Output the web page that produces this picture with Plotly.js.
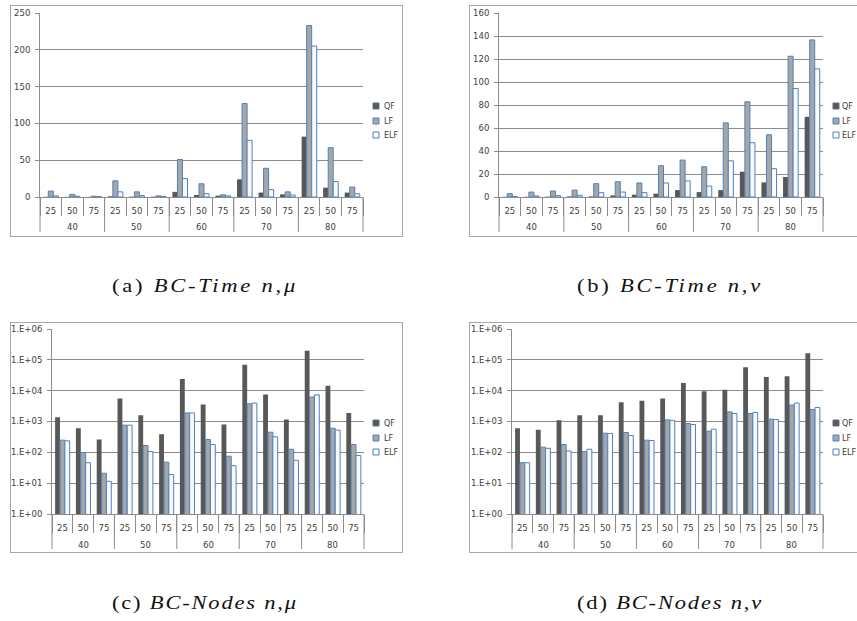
<!DOCTYPE html>
<html><head><meta charset="utf-8">
<script src="https://cdn.plot.ly/plotly-3.0.1.min.js"></script>
<style>
html,body{margin:0;padding:0;background:#fff;overflow:hidden;width:857px;height:621px;}
#wrap{position:relative;width:857px;height:621px;overflow:hidden;background:#fff;}
.panel{position:absolute;background:#fff;box-shadow:inset 0 0 0 1px #a6a6a6;}
.cap{position:absolute;font-family:'Liberation Serif','Times New Roman',serif;font-size:18px;line-height:18px;white-space:nowrap;transform-origin:0 50%;color:#111;}
</style></head>
<body><div id="wrap">
<div id="pa" class="panel" style="left:10px;top:5px;width:393px;height:232px"></div>
<div id="pb" class="panel" style="left:469px;top:5px;width:393px;height:232px"></div>
<div id="pc" class="panel" style="left:10px;top:322px;width:393px;height:231px"></div>
<div id="pd" class="panel" style="left:469px;top:322px;width:393px;height:231px"></div>
<div id="ca" class="cap" style="left:112px;top:277px">(a) <i>BC-Time n</i>,<i>μ</i></div>
<div id="cb" class="cap" style="left:577px;top:277px">(b) <i>BC-Time n</i>,<i>ν</i></div>
<div id="cc" class="cap" style="left:112px;top:594px">(c) <i>BC-Nodes n</i>,<i>μ</i></div>
<div id="cd" class="cap" style="left:577px;top:594px">(d) <i>BC-Nodes n</i>,<i>ν</i></div>
</div>
<script>
// ---- data ----
const nGroups = ['40', '50', '60', '70', '80'];
const subLevels = ['25', '50', '75'];
const seriesNames = ['QF', 'LF', 'ELF'];
const logTickVals = [1, 10, 100, 1000, 10000, 100000, 1000000];
const logTickText = ['1.E+00', '1.E+01', '1.E+02', '1.E+03', '1.E+04', '1.E+05', '1.E+06'];

// (a) BC-Time n,mu
const timeMuQF  = [0.3, 0.2, 0.2, 1.0, 0.5, 0.5, 7, 2.7, 1.8, 24, 6, 3.6, 82, 12.7, 6];
const timeMuLF  = [8, 3.5, 1, 22, 7, 1.5, 51, 18, 3, 127, 39, 7, 233, 67, 13.5];
const timeMuELF = [1.5, 1, 0.5, 7, 2, 0.8, 25, 4.5, 1.5, 77, 10, 2.7, 205, 21, 4.5];
// (b) BC-Time n,nu
const timeNuQF  = [0.2, 0.2, 0.3, 0.5, 0.5, 1.4, 2, 2.9, 6, 4.3, 6, 22, 12.7, 17.4, 69.7];
const timeNuLF  = [2.9, 4.3, 5.2, 6, 11.6, 13.3, 12.2, 27.2, 32.1, 26.3, 64.5, 82.8, 54.1, 122.4, 136.6];
const timeNuELF = [0.5, 0.9, 1.2, 1.5, 3.8, 4.3, 3.8, 12.2, 14, 9.5, 31.5, 47.2, 24.6, 94.3, 111.4];
// (c) BC-Nodes n,mu
const nodesMuQF  = [1380, 605, 260, 5600, 1600, 388, 23700, 3560, 800, 69500, 7570, 1160, 198000, 14500, 1900];
const nodesMuLF  = [248, 98, 21, 760, 166, 48, 1900, 260, 75, 3730, 450, 126, 6200, 605, 179];
const nodesMuELF = [236, 46, 11.5, 760, 106, 19, 1900, 179, 37, 3960, 318, 55, 7350, 523, 79];
// (d) BC-Nodes n,nu
const nodesNuQF  = [605, 537, 1100, 1600, 1600, 4240, 4700, 5600, 17600, 9660, 10700, 57000, 27600, 29600, 162000];
const nodesNuLF  = [46, 147, 179, 106, 418, 440, 248, 1130, 861, 485, 2050, 1820, 1190, 3400, 2460];
const nodesNuELF = [46, 135, 111, 126, 410, 351, 242, 1090, 800, 565, 1820, 1960, 1160, 3960, 2850];

// ---- styles ----
const fills = ['#585858', '#a6a6a6', '#fafafa'];
const edges = ['#585858', '#4f81bd', '#4f81bd'];
const edgeW = [0, 1, 1];
const axisCol = '#8c8c8c';
const txtCol = '#404040';
const FONT = 'DejaVu Sans, sans-serif';
const FS = 8.5;

// unique category keys (group + sub level), labelled by the sub level
const xCats = nGroups.flatMap(g => subLevels.map(s => g + '|' + s));
const xSubText = nGroups.flatMap(() => subLevels.slice());

function makePanel(id, ys, o) {
  const pw = o.w - o.l - o.r, ph = o.h - o.t - o.b;
  const px2x = p => (p - o.l) / pw;
  const py2y = p => 1 - (p - o.t) / ph;
  const traces = ys.map((y, i) => ({
    type: 'bar', name: seriesNames[i], x: xCats, y: y,
    marker: {color: fills[i], line: {color: edges[i], width: edgeW[i]}},
    hoverinfo: 'skip'
  }));
  const shapes = [], annotations = [];
  // legend (drawn manually for Excel-like compact spacing)
  seriesNames.forEach((nm, i) => {
    const cy = py2y(o.legY[i]);
    shapes.push({type: 'rect', xref: 'paper', yref: 'paper', xsizemode: 'pixel', ysizemode: 'pixel',
      xanchor: px2x(o.legSw), yanchor: cy, x0: 0, x1: 6, y0: -3, y1: 3,
      fillcolor: fills[i], line: {color: i === 0 ? '#5a6f8a' : edges[i], width: 1}});
    annotations.push({xref: 'paper', yref: 'paper', x: px2x(o.legTx), y: cy, xanchor: 'left', yanchor: 'middle',
      text: nm, showarrow: false, font: {family: FONT, size: 8, color: txtCol}});
  });
  // group level of the category axis: dividers and labels
  const nSub = subLevels.length, nCat = xCats.length;
  for (let k = 0; k <= nGroups.length; k++) {
    shapes.push({type: 'line', xref: 'paper', yref: 'paper', x0: k * nSub / nCat, x1: k * nSub / nCat,
      y0: 0, y1: -35 / ph, line: {color: axisCol, width: 1}});
  }
  nGroups.forEach((g, k) => {
    annotations.push({xref: 'paper', yref: 'paper', x: (k * nSub + nSub / 2) / nCat, y: -30.5 / ph,
      xanchor: 'center', yanchor: 'middle', text: g, showarrow: false,
      font: {family: FONT, size: FS, color: txtCol}});
  });
  const yaxis = {
    ticks: 'outside', ticklen: 4, tickcolor: axisCol, showgrid: true, gridcolor: axisCol, gridwidth: 1,
    showline: true, linecolor: axisCol, linewidth: 1, zeroline: false, automargin: false, fixedrange: true,
    ticklabelstandoff: 3, tickfont: {family: FONT, size: FS, color: txtCol}
  };
  if (o.log) {
    Object.assign(yaxis, {type: 'log', range: [0, 6], tickmode: 'array', tickvals: logTickVals, ticktext: logTickText});
  } else {
    Object.assign(yaxis, {range: o.range, tickmode: 'linear', tick0: 0, dtick: o.dtick});
  }
  const layout = {
    width: o.w, height: o.h, margin: {l: o.l, r: o.r, t: o.t, b: o.b, pad: 0},
    paper_bgcolor: 'rgba(0,0,0,0)', plot_bgcolor: 'rgba(0,0,0,0)',
    font: {family: FONT, size: FS, color: txtCol},
    showlegend: false, barmode: 'group', bargap: 0.3, bargroupgap: 0,
    xaxis: {
      type: 'category', tickmode: 'array', tickvals: xCats, ticktext: xSubText,
      showline: true, linecolor: axisCol, linewidth: 1,
      ticks: 'outside', tickson: 'boundaries', ticklen: 18, tickcolor: axisCol,
      showgrid: false, automargin: false, fixedrange: true, ticklabelstandoff: 6,
      tickfont: {family: FONT, size: FS, color: txtCol}
    },
    yaxis: yaxis, shapes: shapes, annotations: annotations
  };
  Plotly.newPlot(id, traces, layout, {staticPlot: true, displayModeBar: false});
}

makePanel('pa', [timeMuQF, timeMuLF, timeMuELF],
  {w: 393, h: 232, l: 30, r: 40, t: 8, b: 40, range: [0, 250], dtick: 50, legSw: 363, legTx: 372, legY: [101, 116, 130]});
makePanel('pb', [timeNuQF, timeNuLF, timeNuELF],
  {w: 393, h: 232, l: 30, r: 39, t: 8, b: 40, range: [0, 160], dtick: 20, legSw: 364, legTx: 371, legY: [101, 116, 130]});
makePanel('pc', [nodesMuQF, nodesMuLF, nodesMuELF],
  {w: 393, h: 231, l: 42, r: 39, t: 7, b: 39, log: true, legSw: 363, legTx: 372, legY: [101, 116, 130]});
makePanel('pd', [nodesNuQF, nodesNuLF, nodesNuELF],
  {w: 393, h: 231, l: 43, r: 39, t: 7, b: 39, log: true, legSw: 364, legTx: 371, legY: [101, 116, 130]});

// captions: widen to the reference width with a mild stretch plus letter spacing
const capScale = 1.25;
['ca', 'cb', 'cc', 'cd'].forEach(id => {
  const el = document.getElementById(id);
  const w0 = el.getBoundingClientRect().width;
  const n = el.textContent.length;
  const target = 186 / capScale;
  const ls = Math.max(0, (target - w0) / n);
  el.style.letterSpacing = ls.toFixed(2) + 'px';
  el.style.transform = 'scaleX(' + capScale + ')';
});
</script>
</body></html>
